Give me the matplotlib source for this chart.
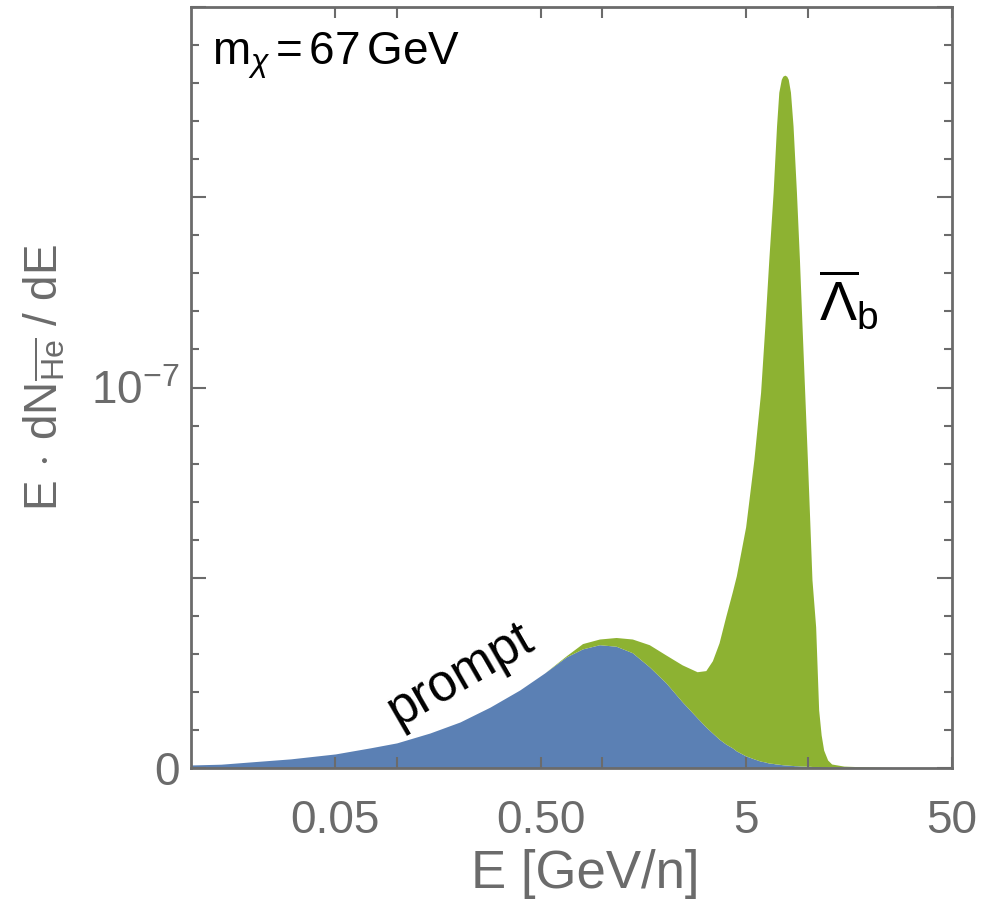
import numpy as np
import matplotlib
matplotlib.use('Agg')
from matplotlib import pyplot as plt
from matplotlib.ticker import FixedLocator, NullFormatter

plt.rcParams['font.family'] = ['Liberation Sans', 'DejaVu Sans']
plt.rcParams['mathtext.fontset'] = 'custom'
plt.rcParams['mathtext.rm'] = 'Liberation Sans'
plt.rcParams['mathtext.it'] = 'Liberation Sans:italic'
plt.rcParams['mathtext.bf'] = 'Liberation Sans:bold'

# kinetic energy per nucleon [GeV/n]
energy = [0.0100, 0.0140, 0.0195, 0.0305, 0.0503, 0.0744, 0.100, 0.145, 0.203, 0.284,
          0.396, 0.524, 0.667, 0.800, 0.967, 1.165, 1.397, 1.689, 2.034, 2.441,
          2.884, 3.179, 3.422, 3.687, 3.972, 4.276, 4.472, 4.965, 5.446, 5.868,
          6.155, 6.436, 6.753, 6.882, 7.015, 7.196, 7.399, 7.523, 7.694, 7.866,
          8.000, 8.200, 8.441, 8.602, 8.767, 9.065, 9.333, 9.616, 9.910, 10.20,
          10.43, 10.87, 11.24, 11.56, 11.89, 12.43, 13.0, 14.9, 19.6, 27.4,
          50.0]

# E dN/dE in units of 1e-8, prompt production
prompt = [0.08, 0.10, 0.16, 0.24, 0.37, 0.53, 0.66, 0.92, 1.21, 1.60,
          2.05, 2.50, 2.92, 3.13, 3.24, 3.20, 3.03, 2.66, 2.24, 1.74,
          1.32, 1.08, 0.92, 0.76, 0.63, 0.53, 0.45, 0.32, 0.24, 0.18,
          0.16, 0.13, 0.12, 0.11, 0.105, 0.10, 0.09, 0.085, 0.08, 0.078,
          0.075, 0.07, 0.065, 0.06, 0.06, 0.055, 0.05, 0.05, 0.045, 0.045,
          0.04, 0.04, 0.04, 0.035, 0.035, 0.03, 0.03, 0.026, 0.013, 0.005,
          0.002]

# prompt + Lambda_b contribution
total = [0.08, 0.10, 0.16, 0.24, 0.37, 0.53, 0.66, 0.92, 1.21, 1.60,
         2.05, 2.50, 2.95, 3.27, 3.39, 3.43, 3.39, 3.24, 2.97, 2.71,
         2.53, 2.56, 2.82, 3.29, 3.98, 4.63, 5.05, 6.34, 8.11, 9.87,
         11.61, 13.37, 15.13, 16.0, 16.87, 17.76, 18.1, 18.18, 18.21, 18.18,
         18.1, 17.76, 16.87, 16.0, 15.13, 13.37, 11.61, 9.87, 8.11, 6.34,
         4.95, 3.71, 1.53, 0.87, 0.47, 0.21, 0.105, 0.05, 0.026, 0.01,
         0.005]

x_major = [0.05, 0.5, 5, 50]
x_major_labels = ['0.05', '0.50', '5', '50']
x_minor = [0.1, 1, 10]

e = np.array(energy)
p = np.array(prompt) * 1e-8
t = np.array(total) * 1e-8

grey = '#6b6b6b'
blue = '#5b80b4'
green = '#8db232'

fig = plt.figure(figsize=(9.92, 9.18), dpi=100)
ax = fig.add_axes([191/992, 1 - 768/918, (952 - 191)/992, (768 - 7)/918])

ax.fill_between(e, 0, p, color=blue, lw=0)
ax.fill_between(e, p, t, color=green, lw=0)

ax.set_xscale('log')
ax.set_xlim(0.01, 50)
ax.set_ylim(0, 2e-7)

ax.xaxis.set_major_locator(FixedLocator(x_major))
ax.set_xticklabels(x_major_labels)
ax.xaxis.set_minor_locator(FixedLocator(x_minor))
ax.xaxis.set_minor_formatter(NullFormatter())

ax.yaxis.set_major_locator(FixedLocator([0, 5e-8, 1e-7, 1.5e-7, 2e-7]))
ax.set_yticklabels(['0', '', r'$10^{-7}$', '', ''])
ax.yaxis.set_minor_locator(FixedLocator(np.arange(1, 20) * 1e-8))

for s in ax.spines.values():
    s.set_color(grey)
    s.set_linewidth(2)

ax.tick_params(which='both', direction='in', top=True, right=True,
               color=grey, labelcolor=grey, labelsize=33, width=1.5)
ax.tick_params(axis='x', which='both', length=8, pad=22)
ax.tick_params(axis='y', which='major', length=11, pad=8)
ax.tick_params(axis='y', which='minor', length=6)

fig.text(585/992, 1 - 874/918, 'E [GeV/n]', color=grey, fontsize=38,
         ha='center', va='center')
fig.text(45/992, 1 - 377/918, r'E$\,\cdot\,$dN$_{\overline{\mathrm{He}}}$ / dE',
         color=grey, fontsize=33, rotation=90, ha='center', va='center')

ax.text(0.028, 0.924, r'm$_\chi$$\,$=$\,$67$\,$GeV', transform=ax.transAxes,
        fontsize=33, color='black', ha='left', va='baseline')
ax.text(0.205, 2.45e-8, 'prompt', fontsize=37, rotation=30,
        ha='center', va='center', rotation_mode='anchor')
ax.text(15.8, 1.23e-7, r'$\overline{\Lambda}_\mathrm{b}$', fontsize=40,
        ha='center', va='center')

fig.savefig('out.png', dpi=100)
